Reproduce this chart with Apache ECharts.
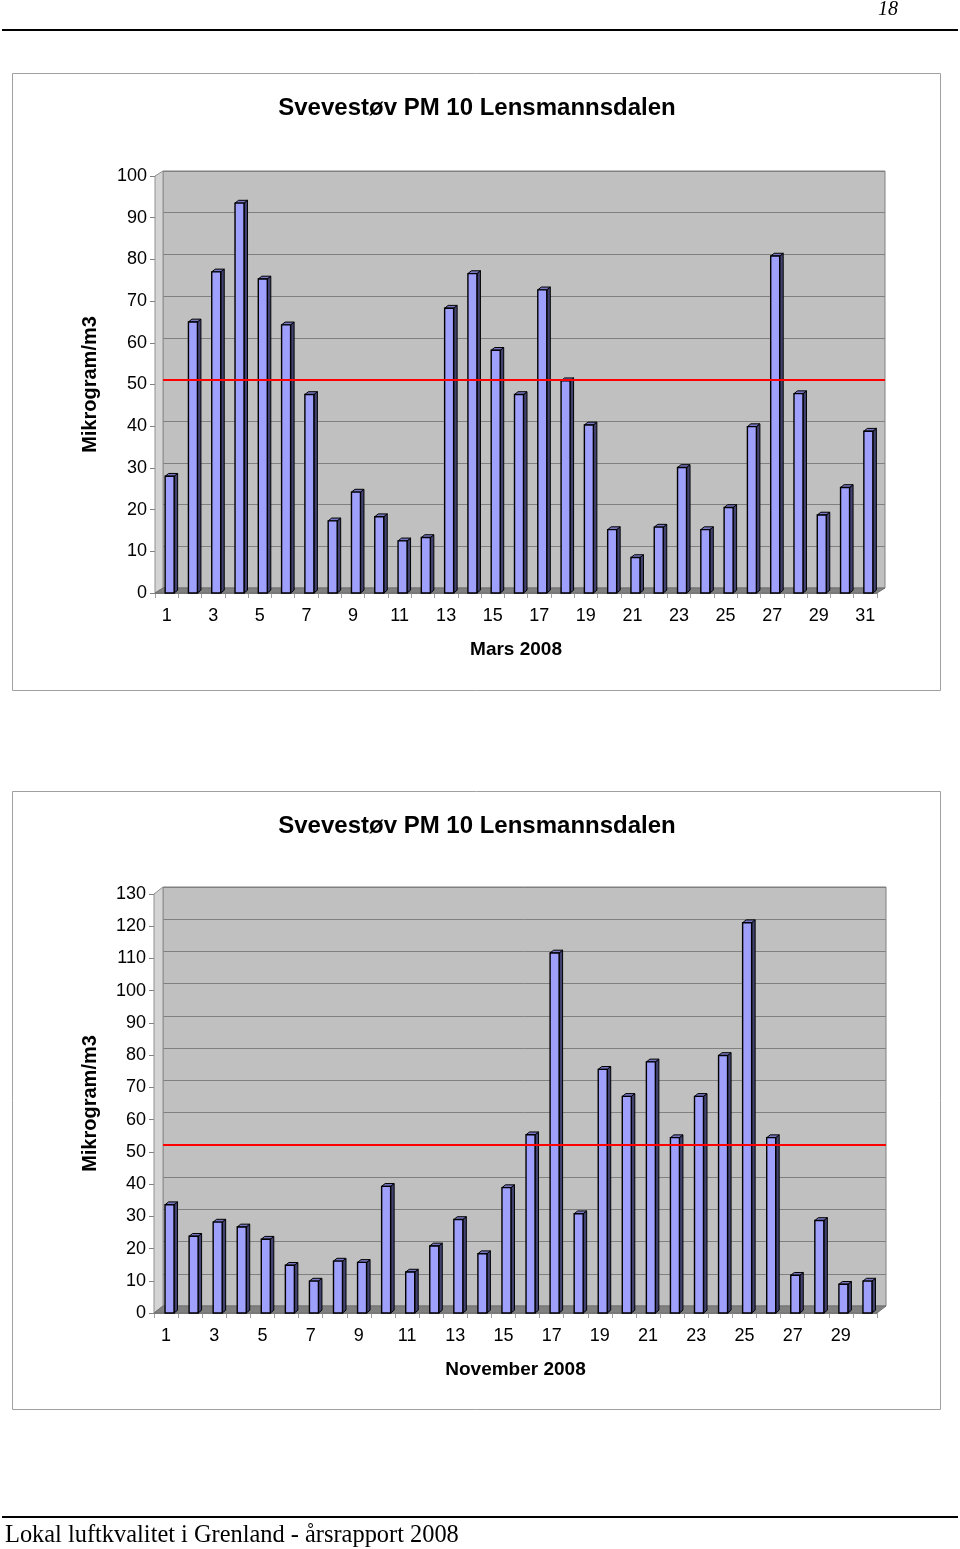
<!DOCTYPE html>
<html>
<head>
<meta charset="utf-8">
<script src="https://cdn.jsdelivr.net/npm/echarts@6.0.0/dist/echarts.min.js"></script>
<style>
html,body{margin:0;padding:0;background:#fff;}
#c{width:960px;height:1549px;}
</style>
</head>
<body>
<div id="c"></div>
<script>
// ---- data ----
const titleText = 'Svevestøv PM 10 Lensmannsdalen';
const yName = 'Mikrogram/m3';
const limitValue = 50;

const marsDays = ['1','2','3','4','5','6','7','8','9','10','11','12','13','14','15','16','17','18','19','20','21','22','23','24','25','26','27','28','29','30','31'];
const marsValues = [28, 65, 77, 93.5, 75.3, 64.3, 47.6, 17.3, 24.2, 18.3, 12.5, 13.3, 68.3, 76.6, 58.2, 47.6, 72.7, 50.9, 40.3, 15.2, 8.5, 15.8, 30.1, 15.2, 20.5, 39.9, 80.8, 47.8, 18.7, 25.3, 38.8];
const marsName = 'Mars 2008';
const marsMax = 100;

const novDays = ['1','2','3','4','5','6','7','8','9','10','11','12','13','14','15','16','17','18','19','20','21','22','23','24','25','26','27','28','29','30'];
const novValues = [33.6, 23.8, 28.2, 26.7, 22.9, 14.8, 9.9, 16.1, 15.7, 39.3, 12.7, 20.8, 29.0, 18.4, 38.9, 55.3, 111.7, 30.8, 75.6, 67.2, 77.9, 54.4, 67.2, 79.9, 121.1, 54.4, 11.7, 28.7, 8.9, 9.9];
const novName = 'November 2008';
const novMax = 130;

const headerText = '18';
const footerText = 'Lokal luftkvalitet i Grenland - årsrapport 2008';

// ---- layout ----
const FONT = '"Liberation Sans", Arial, sans-serif';
const charts = [
  { days: marsDays, values: marsValues, name: marsName, max: marsMax,
    box: [12.5, 73.5, 928, 617], titleY: 108,
    back: { left: 163, top: 171, width: 722, height: 417 },
    fdx: -8, fdy: 5, bars: { left: 158, width: 722 } },
  { days: novDays, values: novValues, name: novName, max: novMax,
    box: [12.5, 791.5, 928, 618], titleY: 826,
    back: { left: 163, top: 887, width: 723, height: 419 },
    fdx: -9, fdy: 7, bars: { left: 157.5, width: 722 } }
];

const grids = [], xAxes = [], yAxes = [], series = [], graphics = [];

function renderBar(params, api) {
  const idx = api.value(0), v = api.value(1);
  const top = api.coord([idx, v]);
  const base = api.coord([idx, 0]);
  const hw = 4.5, dx = 3.5, dy = 2.8;
  const x = top[0], y = top[1], b = base[1];
  return { type: 'group', children: [
    { type: 'polygon', shape: { points: [[x+hw, y], [x+hw+dx, y-dy], [x+hw+dx, b-dy], [x+hw, b]] },
      style: { fill: '#424270', stroke: '#000', lineWidth: 1 } },
    { type: 'polygon', shape: { points: [[x-hw, y], [x-hw+dx, y-dy], [x+hw+dx, y-dy], [x+hw, y]] },
      style: { fill: '#7676c0', stroke: '#000', lineWidth: 1 } },
    { type: 'rect', shape: { x: x-hw, y: y, width: 2*hw, height: b-y },
      style: { fill: '#9f9ffc', stroke: '#000', lineWidth: 1.4 } }
  ]};
}

charts.forEach((c, k) => {
  const g0 = grids.length;
  const bk = c.back;
  const fl = bk.left + c.fdx, ft = bk.top + c.fdy;
  // back wall grid
  grids.push({ left: bk.left, top: bk.top, width: bk.width, height: bk.height,
    show: true, backgroundColor: '#c0c0c0', borderColor: '#808080', borderWidth: 1, z: 0 });
  // front axes grid
  grids.push({ left: fl, top: ft, width: bk.width, height: bk.height, show: false });
  // bars grid (bars stand a little behind the front edge)
  grids.push({ left: c.bars.left, top: ft, width: c.bars.width, height: bk.height, show: false });

  // back axes
  xAxes.push({ gridIndex: g0, type: 'category', data: c.days, show: false });
  yAxes.push({ gridIndex: g0, type: 'value', min: 0, max: c.max, interval: 10,
    axisLine: { show: false }, axisTick: { show: false }, axisLabel: { show: false },
    splitLine: { show: true, lineStyle: { color: '#808080', width: 1 } } });
  // front axes
  xAxes.push({ gridIndex: g0 + 1, type: 'category', data: c.days,
    axisLine: { show: true, lineStyle: { color: '#808080', width: 1 } },
    axisTick: { show: true, interval: 0, length: 5, lineStyle: { color: '#a0a0a0' } },
    axisLabel: { interval: 1, margin: 14, color: '#000', fontSize: 18, fontFamily: FONT },
    name: c.name, nameLocation: 'middle', nameGap: 47,
    nameTextStyle: { color: '#000', fontSize: 19, fontWeight: 'bold', fontFamily: FONT } });
  yAxes.push({ gridIndex: g0 + 1, type: 'value', min: 0, max: c.max, interval: 10,
    axisLine: { show: true, lineStyle: { color: '#808080', width: 1 } },
    axisTick: { show: true, length: 5, lineStyle: { color: '#808080' } },
    axisLabel: { show: true, margin: 8, color: '#000', fontSize: 18, fontFamily: FONT },
    splitLine: { show: false },
    name: yName, nameLocation: 'middle', nameGap: fl - 90 - 10, nameRotate: 90,
    nameTextStyle: { color: '#000', fontSize: 20, fontWeight: 'bold', fontFamily: FONT } });
  // bars axes
  xAxes.push({ gridIndex: g0 + 2, type: 'category', data: c.days, show: false });
  yAxes.push({ gridIndex: g0 + 2, type: 'value', min: 0, max: c.max, interval: 10, show: false });

  // red limit line on back wall
  series.push({ type: 'line', xAxisIndex: g0, yAxisIndex: g0, data: c.days.map(() => null),
    silent: true, symbol: 'none', z: 3,
    markLine: { silent: true, symbol: 'none', label: { show: false },
      lineStyle: { color: '#ff0000', width: 2, type: 'solid' },
      data: [{ yAxis: limitValue }] } });
  // 3D bars
  series.push({ type: 'custom', xAxisIndex: g0 + 2, yAxisIndex: g0 + 2, z: 4,
    renderItem: renderBar, encode: { x: 0, y: 1 },
    data: c.values.map((v, i) => [i, v]) });

  // decorations: box, title, side wall, floor
  graphics.push({ type: 'rect', z: -10, shape: { x: c.box[0], y: c.box[1], width: c.box[2], height: c.box[3] },
    style: { fill: 'none', stroke: '#a0a0a0', lineWidth: 1 } });
  graphics.push({ type: 'text', x: 477, y: c.titleY,
    style: { text: titleText, fill: '#000', font: 'bold 24px ' + FONT, textAlign: 'center', textVerticalAlign: 'middle' } });
  const bb = bk.top + bk.height, br = bk.left + bk.width;
  graphics.push({ type: 'polygon', z: 1,
    shape: { points: [[fl, ft], [bk.left, bk.top], [bk.left, bb], [fl, bb + c.fdy]] },
    style: { fill: '#d4d4d4', stroke: '#909090', lineWidth: 1 } });
  graphics.push({ type: 'polygon', z: 1,
    shape: { points: [[fl, bb + c.fdy], [bk.left, bb], [br, bb], [br + c.fdx, bb + c.fdy]] },
    style: { fill: '#808080', stroke: '#707070', lineWidth: 1 } });
});

// header and footer
graphics.push({ type: 'text', x: 888, y: 10,
  style: { text: headerText, fill: '#000', font: 'italic 20px "Liberation Serif", "Times New Roman", serif', textAlign: 'center', textVerticalAlign: 'middle' } });
graphics.push({ type: 'line', shape: { x1: 2, y1: 30, x2: 958, y2: 30 }, style: { stroke: '#000', lineWidth: 2 } });
graphics.push({ type: 'line', shape: { x1: 2, y1: 1517, x2: 958, y2: 1517 }, style: { stroke: '#000', lineWidth: 2 } });
graphics.push({ type: 'text', x: 5, y: 1536,
  style: { text: footerText, fill: '#000', font: '24.4px "Liberation Serif", "Times New Roman", serif', textAlign: 'left', textVerticalAlign: 'middle' } });

const chart = echarts.init(document.getElementById('c'), null, { renderer: 'canvas' });
chart.setOption({
  animation: false,
  backgroundColor: '#fff',
  grid: grids, xAxis: xAxes, yAxis: yAxes, series: series,
  graphic: graphics
});
</script>
</body>
</html>
